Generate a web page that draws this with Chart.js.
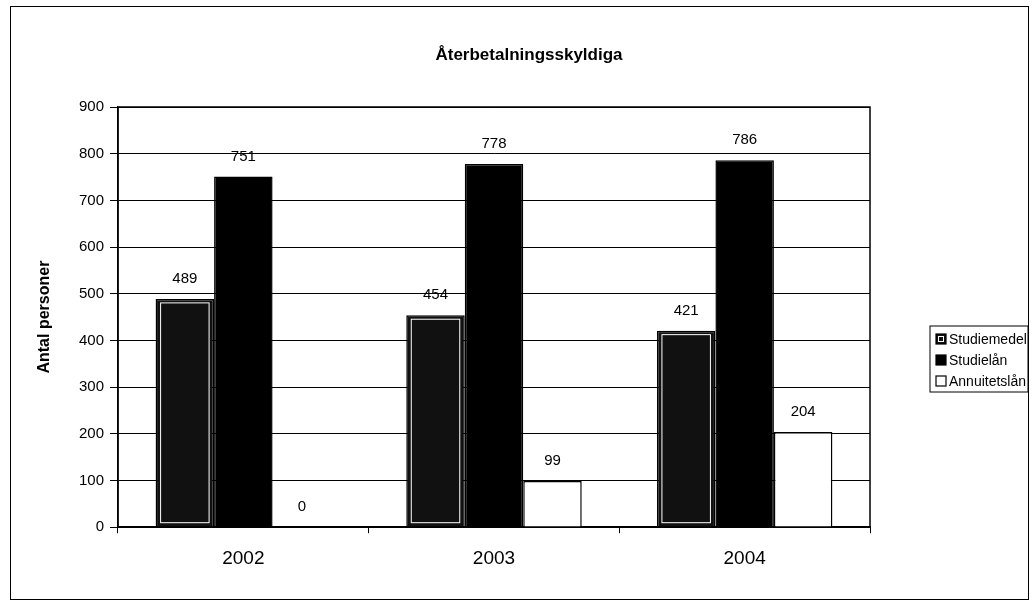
<!DOCTYPE html>
<html>
<head>
<meta charset="utf-8">
<script src="https://cdn.jsdelivr.net/npm/chart.js@4.4.0/dist/chart.umd.min.js"></script>
<style>
  html, body { margin: 0; padding: 0; background: #fff; }
  #frame { position: absolute; left: 10px; top: 6px; width: 1019px; height: 594px; border: 1px solid #000; box-sizing: border-box; }
  #wrap { position: absolute; left: 0; top: 0; width: 1032px; height: 615px; }
</style>
</head>
<body>
<div id="frame"></div>
<div id="wrap"><canvas id="bar-chart" width="1032" height="615"></canvas></div>
<script>
var years = ['2002', '2003', '2004'];
var studiemedel = [489, 454, 421];
var studielan = [751, 778, 786];
var annuitetslan = [0, 99, 204];
var yTicks = [0, 100, 200, 300, 400, 500, 600, 700, 800, 900];
var chartTitle = 'Återbetalningsskyldiga';

var fontFamily = '"Liberation Sans", Arial, sans-serif';

// value labels above each bar
var valueLabels = {
  id: 'valueLabels',
  afterDatasetsDraw: function(chart) {
    var ctx = chart.ctx;
    ctx.save();
    ctx.fillStyle = '#000';
    ctx.font = '15px ' + fontFamily;
    ctx.textAlign = 'center';
    ctx.textBaseline = 'middle';
    chart.data.datasets.forEach(function(ds, i) {
      chart.getDatasetMeta(i).data.forEach(function(bar, j) {
        ctx.fillText(ds.data[j], bar.x, bar.y - 20);
      });
    });
    ctx.restore();
  }
};

// white inner outline on the Studiemedel bars (scanned pattern look)
var innerLine = {
  id: 'innerLine',
  afterDatasetsDraw: function(chart) {
    var ctx = chart.ctx;
    ctx.save();
    ctx.strokeStyle = '#fff';
    ctx.lineWidth = 1;
    chart.getDatasetMeta(0).data.forEach(function(bar) {
      var l = bar.x - bar.width / 2 + 5, r = bar.x + bar.width / 2 - 5;
      ctx.strokeRect(l, bar.y + 4, r - l, bar.base - bar.y - 8);
    });
    ctx.restore();
  }
};

// title, plot frame and the boxed legend on the right
var frameAndLegend = {
  id: 'frameAndLegend',
  afterDraw: function(chart) {
    var ctx = chart.ctx, a = chart.chartArea;
    ctx.save();
    ctx.fillStyle = '#000';
    ctx.font = 'bold 17px ' + fontFamily;
    ctx.textAlign = 'center';
    ctx.textBaseline = 'middle';
    ctx.fillText(chartTitle, 529, 55);

    ctx.strokeStyle = '#000';
    ctx.lineWidth = 1.5;
    ctx.strokeRect(a.left, a.top, a.right - a.left, a.bottom - a.top);

    var left = a.right + 60, top = 326, rowH = 21;
    ctx.lineWidth = 1;
    ctx.strokeRect(left, top, 98, 66);
    ctx.font = '14px ' + fontFamily;
    ctx.textAlign = 'left';
    chart.data.datasets.forEach(function(ds, i) {
      var cy = top + 13 + i * rowH;
      ctx.fillStyle = ds.backgroundColor;
      ctx.fillRect(left + 6, cy - 5, 10, 10);
      ctx.strokeStyle = '#000';
      ctx.lineWidth = 1.2;
      ctx.strokeRect(left + 6, cy - 5, 10, 10);
      if (i === 0) {
        ctx.strokeStyle = '#fff';
        ctx.lineWidth = 1;
        ctx.strokeRect(left + 8.5, cy - 2.5, 5, 5);
      }
      ctx.fillStyle = '#000';
      ctx.fillText(ds.label, left + 19, cy + 1);
    });
    ctx.restore();
  }
};

new Chart(document.getElementById('bar-chart'), {
  type: 'bar',
  data: {
    labels: years,
    datasets: [{
      label: 'Studiemedel',
      data: studiemedel,
      backgroundColor: '#111',
      borderColor: '#000',
      borderWidth: 1.5
    }, {
      label: 'Studielån',
      data: studielan,
      backgroundColor: '#000',
      borderColor: '#000',
      borderWidth: 1.5
    }, {
      label: 'Annuitetslån',
      data: annuitetslan,
      backgroundColor: '#fff',
      borderColor: '#000',
      borderWidth: 1.5
    }]
  },
  options: {
    responsive: false,
    animation: false,
    layout: { padding: { left: 35, right: 162, top: 107, bottom: 31 } },
    datasets: { bar: { categoryPercentage: 0.70, barPercentage: 1.0 } },
    plugins: {
      title: { display: false },
      legend: { display: false },
      tooltip: { enabled: false }
    },
    scales: {
      x: {
        grid: { display: true, drawOnChartArea: false, color: '#000', tickLength: 6 },
        border: { color: '#000', width: 1.5 },
        ticks: { color: '#000', font: { family: fontFamily, size: 19 }, padding: 14 }
      },
      y: {
        min: 0,
        max: 900,
        afterBuildTicks: function(axis) {
          axis.ticks = yTicks.map(function(v) { return { value: v }; });
        },
        afterFit: function(axis) { axis.width = 83; },
        grid: { color: '#000', lineWidth: 1, tickLength: 8 },
        border: { color: '#000', width: 1.5 },
        ticks: { color: '#000', font: { family: fontFamily, size: 15 }, padding: 6 },
        title: {
          display: true,
          text: 'Antal personer',
          color: '#000',
          font: { family: fontFamily, size: 16, weight: 'bold' },
          padding: { top: 0, bottom: 0 }
        }
      }
    }
  },
  plugins: [valueLabels, innerLine, frameAndLegend]
});
</script>
</body>
</html>
